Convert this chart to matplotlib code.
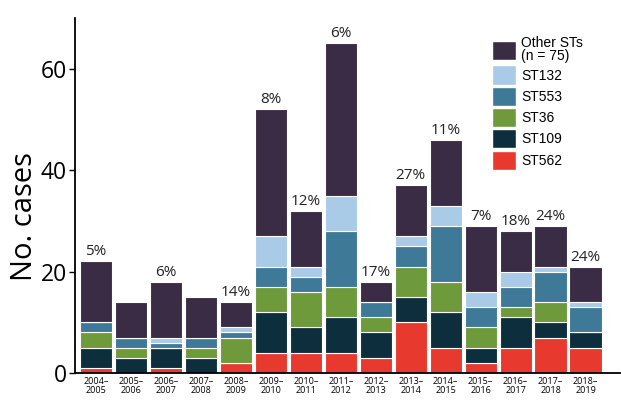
import matplotlib
matplotlib.use("Agg")
import matplotlib.pyplot as plt
from matplotlib.patches import Patch
import numpy as np

seasons = ["2004–\n2005", "2005–\n2006", "2006–\n2007", "2007–\n2008", "2008–\n2009",
           "2009–\n2010", "2010–\n2011", "2011–\n2012", "2012–\n2013", "2013–\n2014",
           "2014–\n2015", "2015–\n2016", "2016–\n2017", "2017–\n2018", "2018–\n2019"]

st562 = [1, 0, 1, 0, 2, 4, 4, 4, 3, 10, 5, 2, 5, 7, 5]
st109 = [4, 3, 4, 3, 0, 8, 5, 7, 5, 5, 7, 3, 6, 3, 3]
st36 = [3, 2, 0, 2, 5, 5, 7, 6, 3, 6, 6, 4, 2, 4, 0]
st553 = [2, 2, 1, 2, 1, 4, 3, 11, 3, 4, 11, 4, 4, 6, 5]
st132 = [0, 0, 1, 0, 1, 6, 2, 7, 0, 2, 4, 3, 3, 1, 1]
other = [12, 7, 11, 8, 5, 25, 11, 30, 4, 10, 13, 13, 8, 8, 7]

series = [
    ("ST562", st562, "#e8392e"),
    ("ST109", st109, "#0d2f3d"),
    ("ST36", st36, "#6e9a3c"),
    ("ST553", st553, "#3e7a98"),
    ("ST132", st132, "#a9cbe7"),
    ("Other STs\n(n = 75)", other, "#3b2c45"),
]

fig = plt.figure(figsize=(6.21, 4.01), dpi=100)
ax = fig.add_axes([0.121, 0.0698, 0.877, 0.885])

x = np.arange(len(seasons))
bottom = np.zeros(len(seasons))
for name, vals, color in series:
    ax.bar(x, vals, bottom=bottom, width=0.92, color=color,
           edgecolor="white", linewidth=0.8)
    bottom += np.array(vals)

# share of ST562 among all cases in each season
for xi, tot, r in zip(x, bottom, st562):
    if r > 0:
        pct = int(round(100 * r / tot))
        ax.text(xi, tot + 0.4, f"{pct}%", ha="center", va="bottom",
                fontsize=11, family="Open Sans", color="#222222")

ax.set_xlim(-0.6, 14.98)
ax.set_ylim(0, 70)
ax.set_yticks([0, 20, 40, 60])
ax.set_xticks(x)
ax.set_xticklabels(seasons, fontsize=6.5, family="Open Sans", linespacing=0.95)
ax.tick_params(axis="x", length=0, pad=3)
ax.tick_params(axis="y", labelsize=16.5, length=4, width=1, pad=2)
for lbl in ax.get_yticklabels():
    lbl.set_family("Open Sans")
ax.set_ylabel("No. cases", fontsize=21, family="Open Sans")
ax.yaxis.set_label_coords(-0.066, 0.44)
ax.spines["top"].set_visible(False)
ax.spines["right"].set_visible(False)
ax.spines["left"].set_linewidth(1.3)
ax.spines["bottom"].set_linewidth(1.3)

handles = [Patch(facecolor=c, edgecolor="white", label=n) for n, v, c in reversed(series)]
leg = ax.legend(handles=handles, loc="upper left", bbox_to_anchor=(0.765, 0.95),
                frameon=False, handlelength=1.75, handleheight=1.75,
                handletextpad=0.35, labelspacing=0.15, borderaxespad=0,
                borderpad=0, prop={"family": "Liberation Sans", "size": 10})
for t in leg.get_texts():
    t.set_linespacing(0.95)

fig.savefig("out.png", dpi=100)
